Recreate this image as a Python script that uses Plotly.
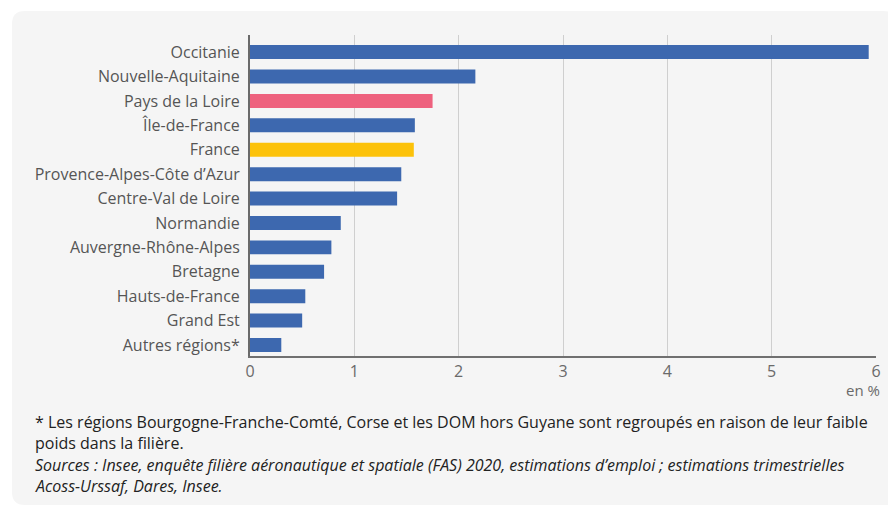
import plotly.graph_objects as go

regions = ["Occitanie", "Nouvelle-Aquitaine", "Pays de la Loire", "Île-de-France", "France",
           "Provence-Alpes-Côte d’Azur", "Centre-Val de Loire", "Normandie",
           "Auvergne-Rhône-Alpes", "Bretagne", "Hauts-de-France", "Grand Est", "Autres régions*"]
values = [5.93, 2.16, 1.75, 1.58, 1.57, 1.45, 1.41, 0.87, 0.78, 0.71, 0.53, 0.50, 0.30]
x_ticks = [0, 1, 2, 3, 4, 5, 6]

BLUE = "#3d68af"
PINK = "#ee617e"
YELLOW = "#fcc20a"
special = {"Pays de la Loire": PINK, "France": YELLOW}
colors = [special.get(r, BLUE) for r in regions]

OFF = 8  # page body margin
W, H = 896 - OFF, 507 - OFF
PLOT_L, PLOT_R, PLOT_T, PLOT_B = 250, 876, 35, 356  # page pixels
L, R, T = PLOT_L - OFF, OFF + W - PLOT_R, PLOT_T - OFF
B = OFF + H - PLOT_B
pw, ph = W - L - R, H - T - B

def px(x):
    return (x - OFF - L) / pw

def py(y):
    return (H - B - (y - OFF)) / ph

fig = go.Figure(go.Bar(x=values, y=regions, orientation="h", marker_color=colors,
                       marker_line_width=0, hoverinfo="x+y"))

# rounded panel
x0, x1, y0, y1, r = 12, 896, 11, 505, 13
rx, ry = r / pw, r / ph
path = (f"M {px(x0)+rx} {py(y0)} L {px(x1)-rx} {py(y0)} Q {px(x1)} {py(y0)} {px(x1)} {py(y0)-ry} "
        f"L {px(x1)} {py(y1)} "
        f"L {px(x0)+rx} {py(y1)} Q {px(x0)} {py(y1)} {px(x0)} {py(y1)+ry} "
        f"L {px(x0)} {py(y0)-ry} Q {px(x0)} {py(y0)} {px(x0)+rx} {py(y0)} Z")
fig.add_shape(type="path", path=path, xref="paper", yref="paper", fillcolor="#f5f5f5",
              line_width=0, layer="below")

font = "Open Sans"
fig.update_layout(
    width=W, height=H, margin=dict(l=L, r=R, t=T, b=B, autoexpand=False),
    paper_bgcolor="white", plot_bgcolor="rgba(0,0,0,0)",
    bargap=0.427, showlegend=False,
    font=dict(family=font, size=16, color="#5a5a5a"),
    xaxis=dict(range=[0, 6], tickvals=x_ticks, showgrid=True, gridcolor="#cfcfcf", gridwidth=1,
               showline=True, linecolor="#707070", linewidth=2, zeroline=False,
               tickfont=dict(size=16, color="#6a6a6a"), ticks="", fixedrange=True),
    yaxis=dict(range=[12.45, -0.70], showgrid=False, showline=True, linecolor="#6a6a6a",
               linewidth=2, zeroline=False, tickfont=dict(size=16, color="#555555"),
               ticks="outside", ticklen=5, tickcolor="rgba(0,0,0,0)", fixedrange=True),
)

fig.add_annotation(text="en %", x=px(882), y=py(390), xref="paper", yref="paper",
                   xanchor="right", yanchor="middle", showarrow=False,
                   font=dict(size=15, color="#6a6a6a", family=font))

lines = [
    ("* Les régions Bourgogne-Franche-Comté, Corse et les DOM hors Guyane sont regroupés en raison de leur faible", 422),
    ("poids dans la filière.", 443),
    ("<i>Sources : Insee, enquête filière aéronautique et spatiale (FAS) 2020, estimations d’emploi ; estimations trimestrielles</i>", 465),
    ("<i>Acoss-Urssaf, Dares, Insee.</i>", 486),
]
for txt, yy in lines:
    fig.add_annotation(text=txt, x=px(33), y=py(yy), xref="paper", yref="paper",
                       xanchor="left", yanchor="middle", showarrow=False,
                       font=dict(size=16, color="#222222", family=font))

fig.write_html("out.html")
